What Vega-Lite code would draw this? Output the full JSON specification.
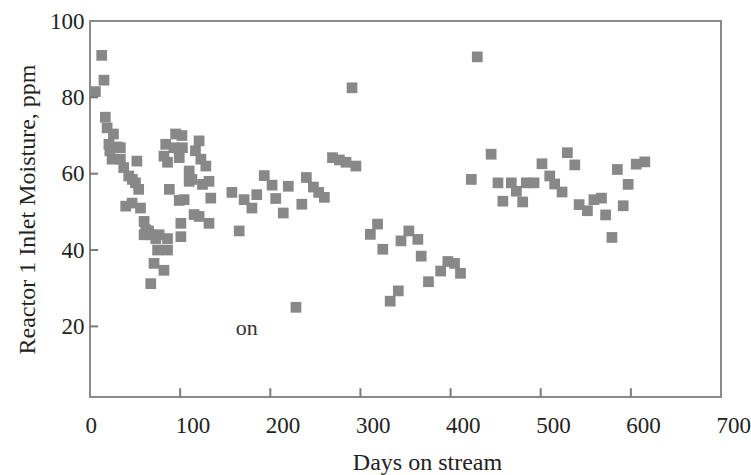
{
  "$schema": "https://vega.github.io/schema/vega-lite/v6.json",
  "width": 631,
  "height": 376,
  "autosize": {"type": "none"},
  "padding": {"left": 90, "top": 21, "right": 30, "bottom": 78},
  "background": "white",
  "config": {
    "view": {"stroke": "#8a8a8a", "strokeWidth": 2},
    "font": "Liberation Serif",
    "axis": {
      "domain": false,
      "grid": false,
      "ticks": false,
      "labelFont": "Liberation Serif",
      "labelFontSize": 23,
      "labelColor": "#222222",
      "titleFont": "Liberation Serif",
      "titleFontSize": 24,
      "titleFontWeight": "normal",
      "titleColor": "#222222"
    }
  },
  "datasets": {
    "xticks": [{"tick": 100}, {"tick": 200}, {"tick": 300}, {"tick": 400}, {"tick": 500}, {"tick": 600}],
    "yticks": [{"tick": 20}, {"tick": 40}, {"tick": 60}, {"tick": 80}]
  },
  "data": {
    "values": [
      {"day": 6, "moisture": 81.5}, {"day": 13, "moisture": 91}, {"day": 15.5, "moisture": 84.5},
      {"day": 17, "moisture": 74.8}, {"day": 19, "moisture": 72}, {"day": 21, "moisture": 67.7},
      {"day": 24.5, "moisture": 63.8}, {"day": 26, "moisture": 70.4}, {"day": 22, "moisture": 66},
      {"day": 30, "moisture": 67}, {"day": 33.7, "moisture": 66.8}, {"day": 33.7, "moisture": 63.8},
      {"day": 37.4, "moisture": 61.6}, {"day": 52, "moisture": 63.3}, {"day": 43, "moisture": 59.4},
      {"day": 47, "moisture": 58.5}, {"day": 50.4, "moisture": 57.6}, {"day": 54, "moisture": 55.9},
      {"day": 39.6, "moisture": 51.5}, {"day": 46.7, "moisture": 52.3}, {"day": 56, "moisture": 51},
      {"day": 60, "moisture": 47.5}, {"day": 61.8, "moisture": 45.3}, {"day": 65, "moisture": 45},
      {"day": 60, "moisture": 44}, {"day": 67.4, "moisture": 44}, {"day": 73, "moisture": 43},
      {"day": 76.7, "moisture": 44}, {"day": 75, "moisture": 40}, {"day": 71, "moisture": 36.5},
      {"day": 82, "moisture": 34.7}, {"day": 67.4, "moisture": 31.2}, {"day": 86, "moisture": 43},
      {"day": 86, "moisture": 40},
      {"day": 82, "moisture": 64.6}, {"day": 84, "moisture": 67.7}, {"day": 86, "moisture": 63},
      {"day": 93, "moisture": 66.8}, {"day": 95, "moisture": 70.4}, {"day": 99, "moisture": 64.2},
      {"day": 102.5, "moisture": 66.8}, {"day": 102, "moisture": 70}, {"day": 88, "moisture": 55.9},
      {"day": 104.4, "moisture": 53.2}, {"day": 99, "moisture": 53}, {"day": 110, "moisture": 60.7},
      {"day": 110, "moisture": 58}, {"day": 117, "moisture": 66}, {"day": 121, "moisture": 68.6},
      {"day": 123, "moisture": 63.8}, {"day": 128.5, "moisture": 62}, {"day": 132, "moisture": 58},
      {"day": 124.8, "moisture": 57.2}, {"day": 134, "moisture": 53.6}, {"day": 115.5, "moisture": 49.3},
      {"day": 121, "moisture": 48.8}, {"day": 132, "moisture": 47}, {"day": 100.8, "moisture": 47},
      {"day": 100.8, "moisture": 43.5}, {"day": 113, "moisture": 58.5},
      {"day": 157.4, "moisture": 55.1}, {"day": 165.5, "moisture": 45}, {"day": 171, "moisture": 53.2},
      {"day": 179.6, "moisture": 51}, {"day": 185, "moisture": 54.5}, {"day": 193.3, "moisture": 59.5},
      {"day": 202, "moisture": 57}, {"day": 206, "moisture": 53.5}, {"day": 214.4, "moisture": 49.7},
      {"day": 220, "moisture": 56.7}, {"day": 228.5, "moisture": 25}, {"day": 235, "moisture": 52},
      {"day": 240, "moisture": 59}, {"day": 247.8, "moisture": 56.5}, {"day": 253.7, "moisture": 55.1},
      {"day": 260, "moisture": 53.8}, {"day": 269, "moisture": 64.2}, {"day": 276.7, "moisture": 63.6},
      {"day": 284, "moisture": 63}, {"day": 290.7, "moisture": 82.5}, {"day": 295, "moisture": 62},
      {"day": 311, "moisture": 44.1}, {"day": 319, "moisture": 46.8}, {"day": 324.8, "moisture": 40.2},
      {"day": 333, "moisture": 26.6}, {"day": 342, "moisture": 29.3}, {"day": 345, "moisture": 42.4},
      {"day": 353.7, "moisture": 45}, {"day": 363.7, "moisture": 42.8}, {"day": 367.4, "moisture": 38.4},
      {"day": 375.5, "moisture": 31.7}, {"day": 389, "moisture": 34.5}, {"day": 397, "moisture": 37},
      {"day": 404.4, "moisture": 36.5}, {"day": 411, "moisture": 33.9},
      {"day": 423, "moisture": 58.5}, {"day": 429.6, "moisture": 90.6}, {"day": 445, "moisture": 65.1},
      {"day": 452.6, "moisture": 57.6}, {"day": 458, "moisture": 52.8}, {"day": 467.4, "moisture": 57.6},
      {"day": 473, "moisture": 55.4}, {"day": 480, "moisture": 52.6}, {"day": 484, "moisture": 57.6},
      {"day": 492.6, "moisture": 57.6}, {"day": 501.4, "moisture": 62.6}, {"day": 510, "moisture": 59.4},
      {"day": 515.5, "moisture": 57.3}, {"day": 523.7, "moisture": 55.2}, {"day": 529.6, "moisture": 65.5},
      {"day": 537.8, "moisture": 62.3}, {"day": 542.6, "moisture": 51.9}, {"day": 551.8, "moisture": 50.3},
      {"day": 559, "moisture": 53.2}, {"day": 567.4, "moisture": 53.6}, {"day": 572, "moisture": 49.2},
      {"day": 579, "moisture": 43.3}, {"day": 585, "moisture": 61.1}, {"day": 591.5, "moisture": 51.6},
      {"day": 597, "moisture": 57.2}, {"day": 606, "moisture": 62.5}, {"day": 615.5, "moisture": 63.1}
    ]
  },
  "layer": [
    {
      "mark": {"type": "square", "size": 115, "color": "#888888", "opacity": 1, "filled": true},
      "encoding": {
        "x": {
          "field": "day", "type": "quantitative",
          "scale": {"domain": [0, 700], "nice": false, "zero": false},
          "axis": {
            "title": "Days on stream",
            "values": [0, 100, 200, 300, 400, 500, 600, 700],
            "labelPadding": 17,
            "labelAlign": "left",
            "labelOffset": -5,
            "titlePadding": 13,
            "titleX": 337
          }
        },
        "y": {
          "field": "moisture", "type": "quantitative",
          "scale": {"domain": [1.5, 100], "nice": false, "zero": false},
          "axis": {
            "title": "Reactor 1 Inlet Moisture, ppm",
            "values": [20, 40, 60, 80, 100],
            "labelPadding": 6,
            "titlePadding": 10
          }
        }
      }
    },
    {
      "data": {"name": "xticks"},
      "mark": {"type": "rule", "color": "#7a7a7a", "strokeWidth": 2},
      "encoding": {
        "x": {"field": "tick", "type": "quantitative"},
        "y": {"datum": 1.5},
        "y2": {"datum": 3.8}
      }
    },
    {
      "data": {"name": "yticks"},
      "mark": {"type": "rule", "color": "#7a7a7a", "strokeWidth": 2},
      "encoding": {
        "y": {"field": "tick", "type": "quantitative"},
        "x": {"datum": 0},
        "x2": {"datum": 9}
      }
    },
    {
      "data": {"values": [{"day": 174, "moisture": 19.5, "label": "on"}]},
      "mark": {"type": "text", "font": "Liberation Serif", "fontSize": 22, "color": "#333333"},
      "encoding": {
        "x": {"field": "day", "type": "quantitative"},
        "y": {"field": "moisture", "type": "quantitative"},
        "text": {"field": "label"}
      }
    }
  ]
}
